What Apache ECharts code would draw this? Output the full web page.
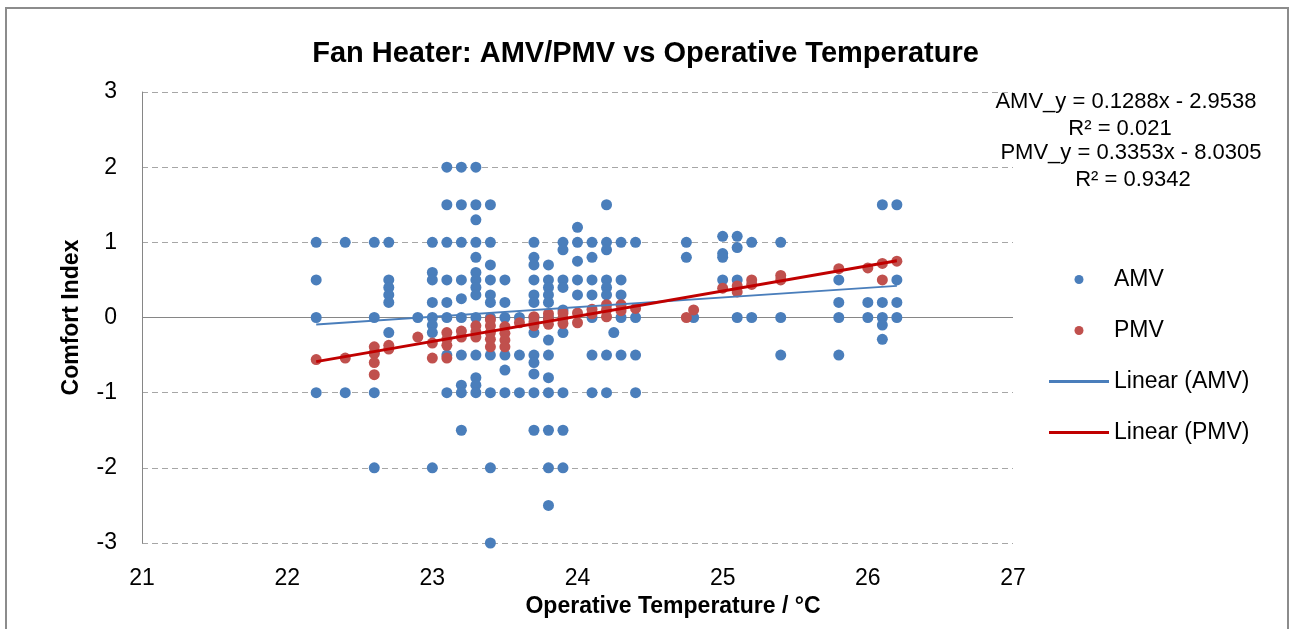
<!DOCTYPE html>
<html>
<head>
<meta charset="utf-8">
<title>Fan Heater: AMV/PMV vs Operative Temperature</title>
<script src="https://cdn.jsdelivr.net/npm/echarts@6/dist/echarts.min.js"></script>
<style>
  html, body { margin: 0; padding: 0; background: #fff; }
  #chart { width: 1291px; height: 629px; }
</style>
</head>
<body>
<div id="chart"></div>
<script>
// AMV votes, grouped by operative temperature (one list of votes per temperature)
var amvTemps = [22.2, 22.4, 22.6, 22.7, 22.9, 23.0, 23.1, 23.2, 23.3, 23.4, 23.5, 23.6,
  23.7, 23.8, 23.9, 24.0, 24.1, 24.2, 24.25, 24.3, 24.4, 24.75, 24.8, 25.0, 25.1, 25.2,
  25.4, 25.8, 26.0, 26.1, 26.2];
var amvVotes = [
  [1, 0.5, 0, -1],
  [1, -1],
  [1, 0, -0.47, -1, -2],
  [1, 0.5, 0.4, 0.3, 0.2, -0.2],
  [0],
  [1, 0.6, 0.5, 0.2, 0, -0.1, -0.2, -2],
  [2, 1.5, 1, 0.5, 0.2, 0, -0.5, -1],
  [2, 1.5, 1, 0.5, 0.25, 0, -0.5, -0.9, -1, -1.5],
  [2, 1.5, 1.3, 1, 0.8, 0.6, 0.5, 0.4, 0.3, 0, -0.5, -0.8, -0.9, -1],
  [1.5, 1, 0.7, 0.5, 0.3, 0.2, 0, -0.5, -1, -2, -3],
  [0.5, 0.2, 0, -0.5, -0.7, -1],
  [0, -0.5, -1],
  [1, 0.8, 0.7, 0.5, 0.3, 0.2, 0, -0.2, -0.5, -0.6, -0.75, -1, -1.5],
  [0.7, 0.5, 0.4, 0.3, 0.2, 0, -0.3, -0.5, -0.8, -1, -1.5, -2, -2.5],
  [1, 0.9, 0.5, 0.4, 0.1, -0.2, -1, -1.5, -2],
  [1.2, 1, 0.75, 0.5, 0.3],
  [1, 0.8, 0.5, 0.3, 0, -0.5, -1],
  [1.5, 1, 0.9, 0.5, 0.4, 0.3, -0.5, -1],
  [-0.2],
  [1, 0.5, 0.3, 0, -0.5],
  [1, 0, -0.5, -1],
  [1, 0.8],
  [0],
  [1.08, 0.85, 0.8, 0.5],
  [1.08, 0.93, 0.5, 0],
  [1, 0],
  [1, 0, -0.5],
  [0.5, 0.2, 0, -0.5],
  [0.2, 0],
  [1.5, 0.2, 0, -0.1, -0.29],
  [1.5, 0.5, 0.2, 0]
];

// PMV values, grouped by operative temperature
var pmvTemps = [22.2, 22.4, 22.6, 22.7, 22.9, 23.0, 23.1, 23.2, 23.3, 23.4, 23.5, 23.6,
  23.7, 23.8, 23.9, 24.0, 24.1, 24.2, 24.3, 24.4, 24.75, 24.8, 25.0, 25.1, 25.2, 25.4,
  25.8, 26.0, 26.1, 26.2];
var pmvValues = [
  [-0.56],
  [-0.54],
  [-0.39, -0.48, -0.6, -0.76],
  [-0.37, -0.42],
  [-0.26],
  [-0.34, -0.54],
  [-0.2, -0.29, -0.37, -0.54],
  [-0.18, -0.26],
  [-0.11, -0.19, -0.26],
  [-0.03, -0.11, -0.2, -0.29, -0.39],
  [-0.12, -0.21, -0.3, -0.39],
  [-0.07],
  [0.01, -0.06, -0.11],
  [0.05, -0.02, -0.09],
  [0.06, -0.01, -0.08],
  [0.06, -0.07],
  [0.11, 0.05],
  [0.17, 0.1, 0.01],
  [0.17, 0.09],
  [0.12],
  [0],
  [0.1],
  [0.39],
  [0.42, 0.34],
  [0.5, 0.44],
  [0.56, 0.5],
  [0.65],
  [0.66],
  [0.72, 0.5],
  [0.75]
];

// fitted linear trends as reported on the chart: [slope, intercept, R²]
var amvFit = [0.1288, -2.9538, 0.021];
var pmvFit = [0.3353, -8.0305, 0.9342];

var xTicks = [21, 22, 23, 24, 25, 26, 27];
var yTicks = [-3, -2, -1, 0, 1, 2, 3];

function toPoints(temps, groups) {
  var pts = [];
  temps.forEach(function (t, i) {
    groups[i].forEach(function (v) { pts.push([t, v]); });
  });
  return pts;
}

function trendLine(temps, fit) {
  var lo = Math.min.apply(null, temps), hi = Math.max.apply(null, temps);
  return [[lo, fit[0] * lo + fit[1]], [hi, fit[0] * hi + fit[1]]];
}

function eqText(label, fit) {
  return label + '_y = ' + fit[0] + 'x - ' + Math.abs(fit[1]);
}

var FONT = '"Liberation Sans", Arial, sans-serif';
var BLUE = '#4a7ebb', RED = '#c0504d';
// flat bar used as the legend icon of the trend lines
var LINE_ICON = 'path://M0,0L20,0L20,1L0,1Z';

var chart = echarts.init(document.getElementById('chart'), null, { renderer: 'canvas' });

var option = {
  backgroundColor: '#fff',
  animation: false,
  title: {
    text: 'Fan Heater: AMV/PMV vs Operative Temperature',
    left: 'center',
    top: 34,
    textStyle: { fontFamily: FONT, fontSize: 29, fontWeight: 'bold', color: '#000' }
  },
  legend: {
    orient: 'vertical',
    left: 1044,
    top: 263,
    itemWidth: 60,
    itemHeight: 9,
    itemGap: 28,
    textStyle: { fontFamily: FONT, fontSize: 23, color: '#000', lineHeight: 23 },
    data: [
      { name: 'AMV', icon: 'circle' },
      { name: 'PMV', icon: 'circle' },
      { name: 'Linear (AMV)', icon: LINE_ICON, itemStyle: { color: BLUE } },
      { name: 'Linear (PMV)', icon: LINE_ICON, itemStyle: { color: '#c00000' } }
    ]
  },
  grid: { left: 142, right: 278, top: 92, bottom: 86 },
  xAxis: {
    type: 'value',
    min: xTicks[0],
    max: xTicks[xTicks.length - 1],
    interval: 1,
    name: 'Operative Temperature / °C',
    nameLocation: 'middle',
    nameGap: 49,
    nameTextStyle: { fontFamily: FONT, fontSize: 23, fontWeight: 'bold', color: '#000', padding: [0, 0, 0, 191] },
    axisLine: { show: false },
    axisTick: { show: false },
    splitLine: { show: false },
    axisLabel: { fontFamily: FONT, fontSize: 23, color: '#000', margin: 24 }
  },
  yAxis: {
    type: 'value',
    min: yTicks[0],
    max: yTicks[yTicks.length - 1],
    interval: 1,
    name: 'Comfort Index',
    nameLocation: 'middle',
    nameGap: 59,
    nameRotate: 90,
    nameTextStyle: { fontFamily: FONT, fontSize: 23, fontWeight: 'bold', color: '#000' },
    axisLine: { show: true, lineStyle: { color: '#868686', width: 1 } },
    axisTick: { show: false },
    axisLabel: { fontFamily: FONT, fontSize: 23, color: '#000', margin: 25 },
    splitLine: {
      show: true,
      lineStyle: { color: '#a6a6a6', type: [6, 4], width: 1 }
    }
  },
  series: [
    {
      name: 'AMV',
      type: 'scatter',
      symbol: 'circle',
      symbolSize: 11,
      itemStyle: { color: BLUE, opacity: 1 },
      data: toPoints(amvTemps, amvVotes),
      z: 3,
      markLine: {
        silent: true,
        symbol: 'none',
        label: { show: false },
        lineStyle: { color: '#868686', type: 'solid', width: 1 },
        data: [{ yAxis: 0 }],
        z: 1
      }
    },
    {
      name: 'PMV',
      type: 'scatter',
      symbol: 'circle',
      symbolSize: 11,
      itemStyle: { color: RED, opacity: 1 },
      data: toPoints(pmvTemps, pmvValues),
      z: 4
    },
    {
      name: 'Linear (AMV)',
      type: 'line',
      symbol: 'none',
      showSymbol: false,
      lineStyle: { color: BLUE, width: 2 },
      itemStyle: { color: BLUE },
      data: trendLine(amvTemps, amvFit),
      z: 5
    },
    {
      name: 'Linear (PMV)',
      type: 'line',
      symbol: 'none',
      showSymbol: false,
      lineStyle: { color: '#c00000', width: 3 },
      itemStyle: { color: '#c00000' },
      data: trendLine(pmvTemps, pmvFit),
      z: 6
    }
  ],
  graphic: [
    {
      type: 'rect',
      silent: true,
      shape: { x: 6, y: 8, width: 1282, height: 660 },
      style: { fill: 'none', stroke: '#8c8c8c', lineWidth: 2 }
    },
    {
      type: 'text', x: 1126, y: 102,
      style: { text: eqText('AMV', amvFit), font: '22px ' + FONT, fill: '#000', align: 'center', verticalAlign: 'middle' }
    },
    {
      type: 'text', x: 1120, y: 129,
      style: { text: 'R² = ' + amvFit[2], font: '22px ' + FONT, fill: '#000', align: 'center', verticalAlign: 'middle' }
    },
    {
      type: 'text', x: 1131, y: 153,
      style: { text: eqText('PMV', pmvFit), font: '22px ' + FONT, fill: '#000', align: 'center', verticalAlign: 'middle' }
    },
    {
      type: 'text', x: 1133, y: 180,
      style: { text: 'R² = ' + pmvFit[2], font: '22px ' + FONT, fill: '#000', align: 'center', verticalAlign: 'middle' }
    }
  ]
};

chart.setOption(option);
window.addEventListener('resize', chart.resize);
</script>
</body>
</html>
